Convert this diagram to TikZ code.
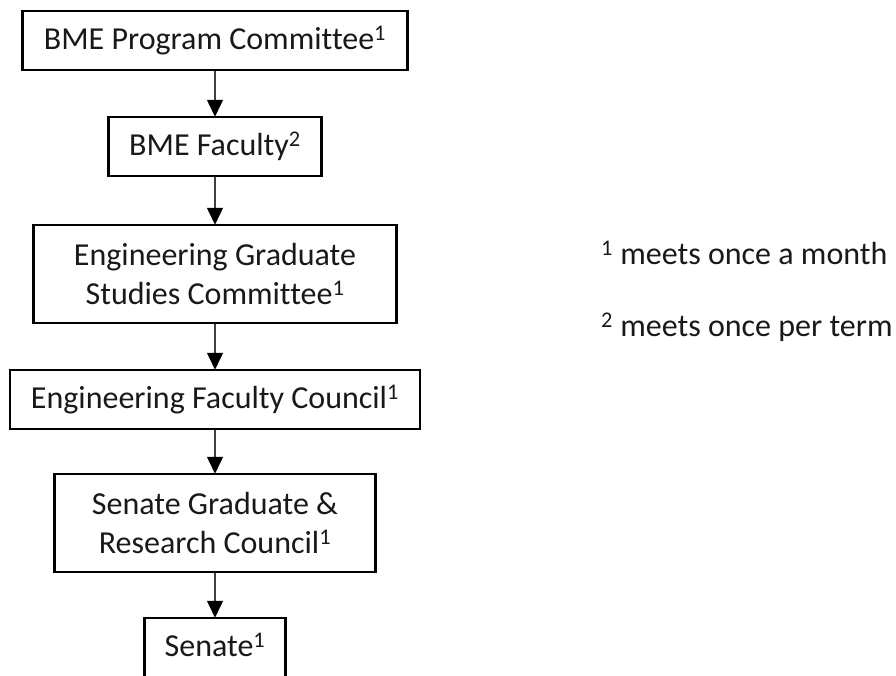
\documentclass[tikz,border=0pt]{standalone}
\usepackage{fontspec}
\setmainfont[Ligatures={NoCommon}]{Carlito}
\usetikzlibrary{arrows.meta}
\begin{document}
\begin{tikzpicture}[x=1pt,y=-1pt,
  box/.style={draw=black,line width=2.5pt,fill=white,align=center,inner sep=0pt,
    font=\fontsize{32}{39}\selectfont,text=black!90},
  flow/.style={draw=black!75,line width=1.5pt,-{Triangle[width=16pt,length=17pt,fill=black,color=black]},shorten >=-1pt},
  note/.style={anchor=west,inner sep=0pt,font=\fontsize{32}{39}\selectfont,text=black!90}]
\useasboundingbox (0,0) rectangle (896,675);
\node[box,minimum width=385pt,minimum height=59pt] (b1) at (215,40.5) {BME Program Committee\textsuperscript{1}};
\node[box,minimum width=213pt,minimum height=59pt] (b2) at (215,146.5) {BME Faculty\textsuperscript{2}};
\node[box,minimum width=363pt,minimum height=98pt] (b3) at (215,274) {Engineering Graduate\\Studies Committee\textsuperscript{1}};
\node[box,minimum width=410pt,minimum height=59pt] (b4) at (215,399.5) {Engineering Faculty Council\textsuperscript{1}};
\node[box,minimum width=321pt,minimum height=98pt] (b5) at (215,523) {Senate Graduate \&\\Research Council\textsuperscript{1}};
\node[box,minimum width=141pt,minimum height=64pt] (b6) at (215,650) {};
\node[inner sep=0pt,font=\fontsize{32}{39}\selectfont,text=black!90] (b6t) at (215,645) {Senate\textsuperscript{1}};
\draw[flow] (b1.south) -- (b2.north);
\draw[flow] (b2.south) -- (b3.north);
\draw[flow] (b3.south) -- (b4.north);
\draw[flow] (b4.south) -- (b5.north);
\draw[flow] (b5.south) -- (b6.north);
\node[note] (n1) at (601,253) {\textsuperscript{1} meets once a month};
\node[note] (n2) at (601,327) {\textsuperscript{2} meets once per term};
\end{tikzpicture}
\end{document}
